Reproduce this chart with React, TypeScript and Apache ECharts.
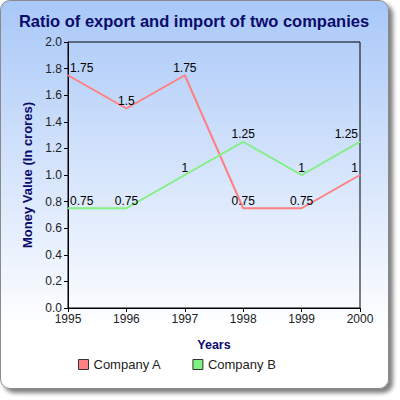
import React, { useEffect, useRef } from 'react';
import * as echarts from 'echarts';

const years = ['1995', '1996', '1997', '1998', '1999', '2000'];
const companyA = [1.75, 1.5, 1.75, 0.75, 0.75, 1];
const companyB = [0.75, 0.75, 1, 1.25, 1, 1.25];
const seriesNames = ['Company A', 'Company B'];

const FONT = 'Liberation Sans, Arial, sans-serif';

// first/last labels are pushed inside the plot box
const withLabels = (values: number[]) =>
  values.map((v, i) => {
    if (i === 0) return { value: v, label: { align: 'left', offset: [2, 0] } };
    if (i === values.length - 1) return { value: v, label: { align: 'right', offset: [-2, 0] } };
    return v;
  });

const App: React.FC = () => {
  const chartRef = useRef<HTMLDivElement>(null);

  useEffect(() => {
    const chart = echarts.init(chartRef.current!, null, { renderer: 'svg' });

    const lineSeries = (name: string, values: number[], color: string) => ({
      name,
      type: 'line' as const,
      data: withLabels(values),
      symbol: 'circle',
      symbolSize: 1,
      itemStyle: { color },
      lineStyle: { color, width: 2 },
      label: {
        show: true,
        position: 'top',
        distance: 1,
        color: '#000',
        fontSize: 12,
        fontFamily: FONT,
      },
    });

    const option: echarts.EChartsOption = {
      animation: false,
      backgroundColor: 'transparent',
      title: {
        text: 'Ratio of export and import of two companies',
        left: 189,
        textAlign: 'center',
        top: 7,
        textStyle: { color: '#0b0b6b', fontSize: 16.5, fontWeight: 'bold', fontFamily: FONT },
      },
      legend: {
        left: 73,
        top: 353,
        itemWidth: 10,
        itemHeight: 10,
        itemGap: 31,
        icon: 'rect',
        data: seriesNames,
        itemStyle: { borderColor: '#333', borderWidth: 1 },
        textStyle: { color: '#222', fontSize: 13, fontFamily: FONT },
      },
      grid: {
        left: 68,
        right: 40,
        top: 42,
        bottom: 92,
        show: true,
        borderColor: '#000',
        borderWidth: 1,
        backgroundColor: 'transparent',
      },
      xAxis: {
        type: 'category',
        data: years,
        boundaryGap: false,
        name: 'Years',
        nameLocation: 'middle',
        nameGap: 30,
        nameTextStyle: { color: '#0b0b6b', fontSize: 12.5, fontWeight: 'bold', fontFamily: FONT },
        axisLine: { lineStyle: { color: '#000' } },
        axisTick: { show: true, length: 4, alignWithLabel: true, lineStyle: { color: '#000' } },
        axisLabel: { color: '#222', fontSize: 12, margin: 5, fontFamily: FONT },
        splitLine: { show: false },
      },
      yAxis: {
        type: 'value',
        min: 0,
        max: 2,
        interval: 0.2,
        name: 'Money Value (In crores)',
        nameLocation: 'middle',
        nameRotate: 90,
        nameGap: 29,
        nameTextStyle: { color: '#0b0b6b', fontSize: 13, fontWeight: 'bold', fontFamily: FONT },
        axisLine: { show: true, lineStyle: { color: '#000' } },
        axisTick: { show: true, length: 4, lineStyle: { color: '#000' } },
        axisLabel: {
          color: '#222',
          fontSize: 12,
          margin: 6,
          fontFamily: FONT,
          formatter: (v: number) => v.toFixed(1),
        },
        splitLine: { show: false },
      },
      series: [
        lineSeries(seriesNames[0], companyA, '#ff8080'),
        lineSeries(seriesNames[1], companyB, '#80f080'),
      ],
    };

    chart.setOption(option);

    return () => {
      chart.dispose();
    };
  }, []);

  return (
    <div style={{ position: 'absolute', left: 0, top: 0, width: 400, height: 400, background: '#fff' }}>
      <div
        style={{
          position: 'absolute',
          left: 0,
          top: 0,
          width: 387,
          height: 387,
          border: '1px solid #8a8a8a',
          borderRadius: 10,
          boxShadow: '4px 4px 4px rgba(0,0,0,0.5)',
          background: 'linear-gradient(to bottom, #a9c8f8 0%, #ffffff 85%)',
        }}
      />
      <div ref={chartRef} style={{ position: 'absolute', left: 0, top: 0, width: 400, height: 400 }} />
    </div>
  );
};

export default App;
